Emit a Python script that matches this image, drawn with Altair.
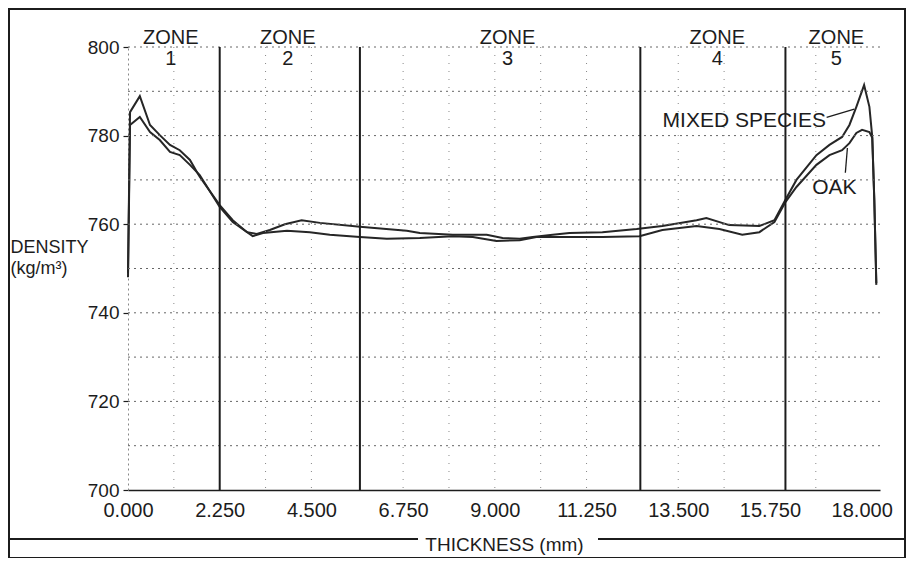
import altair as alt
import pandas as pd

FONT = "Liberation Sans"
INK = "#1c1c1c"

# ---- data ----
thickness_mixed = [0.00, 0.05, 0.29, 0.54, 0.78, 1.03, 1.27, 1.52, 1.69, 1.76, 2.25, 2.57, 2.92,
                   3.16, 3.48, 3.85, 4.26, 4.71, 5.69, 6.84, 7.16, 7.97, 8.80, 9.19, 9.61, 9.93,
                   10.42, 10.83, 11.64, 12.48, 13.11, 13.95, 14.19, 14.75, 15.49, 15.86, 16.13,
                   16.40, 16.89, 17.21, 17.52, 17.70, 17.87, 18.06, 18.19, 18.26, 18.31, 18.36]
density_mixed = [749.0, 785.3, 788.9, 782.4, 780.1, 777.9, 776.7, 774.5, 771.8, 770.7, 764.3, 760.9, 758.2,
                 757.8, 758.7, 760.0, 760.9, 760.3, 759.4, 758.5, 758.0, 757.6, 757.6, 756.9, 756.7, 757.1,
                 757.6, 758.0, 758.2, 758.9, 759.6, 760.9, 761.4, 759.8, 759.6, 760.9, 765.5,
                 770.0, 775.6, 777.9, 779.7, 782.4, 786.5, 791.4, 786.5, 779.7, 765.5, 746.7]

thickness_oak = [0.00, 0.05, 0.29, 0.54, 0.78, 1.03, 1.27, 1.52, 1.76, 2.25, 2.57, 3.06, 3.31,
                 3.90, 4.46, 4.95, 5.69, 6.35, 7.16, 7.97, 8.46, 9.04, 9.61, 10.02, 10.83, 11.64,
                 12.55, 13.11, 13.95, 14.51, 15.07, 15.49, 15.86, 16.13, 16.40, 16.89, 17.21,
                 17.52, 17.70, 17.87, 18.01, 18.19, 18.26, 18.31, 18.36]
density_oak = [748.0, 782.4, 784.2, 780.8, 779.0, 776.3, 775.6, 773.4, 771.1, 763.9, 760.5, 757.3, 758.0,
               758.5, 758.2, 757.6, 757.1, 756.7, 756.9, 757.3, 757.1, 756.2, 756.4, 757.1, 757.1, 757.1,
               757.3, 758.7, 759.6, 758.9, 757.6, 758.2, 760.5, 765.0, 768.4, 773.4, 775.6,
               776.7, 778.3, 780.6, 781.3, 780.8, 779.5, 765.5, 746.3]

zone_bounds = [2.25, 5.69, 12.57, 16.13]
zone_label_x = [1.05, 3.92, 9.31, 14.46, 17.38]
zone_labels = ["ZONE\n1", "ZONE\n2", "ZONE\n3", "ZONE\n4", "ZONE\n5"]
zone_label_y = [804.3, 804.3, 804.3, 804.3, 804.3]

x_ticks = [0.0, 2.25, 4.5, 6.75, 9.0, 11.25, 13.5, 15.75, 18.0]
y_ticks = [700, 720, 740, 760, 780, 800]
h_grid = [710, 720, 730, 740, 750, 760, 770, 780, 790, 800]
v_grid = [1.125, 3.375, 4.5, 6.75, 7.875, 9.0, 10.125, 11.25, 13.5, 14.625, 16.875]

series_labels = ["MIXED SPECIES", "OAK"]
series_label_x = [15.12, 17.33]
series_label_y = [783.3, 768.2]

leader_id = ["m", "m", "o", "o"]
leader_x = [17.14, 17.82, 17.60, 17.65]
leader_y = [784.1, 786.0, 771.6, 777.2]

# ---- tables ----
lines_df = pd.concat([
    pd.DataFrame({"thickness": thickness_mixed, "density": density_mixed, "series": "Mixed species"}),
    pd.DataFrame({"thickness": thickness_oak, "density": density_oak, "series": "Oak"}),
])
zones_df = pd.DataFrame({"thickness": zone_bounds, "density": [700] * len(zone_bounds),
                         "hi": [800] * len(zone_bounds)})
zlab_df = pd.DataFrame({"thickness": zone_label_x, "density": zone_label_y, "zl": zone_labels})
hgrid_df = pd.DataFrame({"density": h_grid})
vgrid_df = pd.DataFrame({"thickness": v_grid})
slab_df = pd.DataFrame({"thickness": series_label_x, "density": series_label_y, "sl": series_labels})
lead_df = pd.DataFrame({"thickness": leader_x, "density": leader_y, "id": leader_id})

x_scale = alt.Scale(domain=[0, 18.45], nice=False, zero=False)
y_scale = alt.Scale(domain=[700, 800], nice=False, zero=False)

x_axis = alt.Axis(values=x_ticks, format=".3f", title="THICKNESS (mm)", grid=False, ticks=False,
                  domain=True, domainColor=INK, domainWidth=1.5,
                  labelFont=FONT, labelFontSize=20, labelColor=INK, labelPadding=10,
                  labelFlush=False, labelOverlap=False,
                  titleFont=FONT, titleFontSize=19, titleFontWeight="normal", titleColor=INK,
                  titleY=54, titleBaseline="middle")
y_axis = alt.Axis(values=y_ticks, grid=False, tickSize=5, tickColor=INK, tickWidth=1.2,
                  domain=True, domainColor="#888", domainDash=[2, 3],
                  labelFont=FONT, labelFontSize=19, labelColor=INK, labelPadding=4,
                  title=["DENSITY", "(kg/m³)"], titleAngle=0, titleAlign="left", titleBaseline="top",
                  titleX=-118, titleY=191, titleFont=FONT, titleFontSize=18, titleFontWeight="normal",
                  titleColor=INK, titleLineHeight=21)

X = alt.X("thickness:Q", scale=x_scale, axis=x_axis)
Y = alt.Y("density:Q", scale=y_scale, axis=y_axis)

curves = alt.Chart(lines_df).mark_line(strokeWidth=2, interpolate="linear").encode(
    x=X, y=Y,
    color=alt.Color("series:N", scale=alt.Scale(range=["#262626", "#262626"]), legend=None))
hgrid = alt.Chart(hgrid_df).mark_rule(strokeDash=[2, 4], color="#666", strokeWidth=1).encode(y=Y)
vgrid = alt.Chart(vgrid_df).mark_rule(strokeDash=[1, 7], color="#888", strokeWidth=1).encode(x=X)
zones = alt.Chart(zones_df).mark_rule(color=INK, strokeWidth=2).encode(x=X, y=Y, y2="hi:Q")
zlab = alt.Chart(zlab_df).mark_text(font=FONT, fontSize=20, color=INK, align="center", baseline="top",
                                    lineBreak="\n", lineHeight=21).encode(x=X, y=Y, text="zl:N")
slab = alt.Chart(slab_df).mark_text(font=FONT, fontSize=21, color=INK, align="center",
                                    baseline="middle").encode(x=X, y=Y, text="sl:N")
leaders = alt.Chart(lead_df).mark_line(color=INK, strokeWidth=1.3).encode(x=X, y=Y, detail="id:N")

frame = alt.Chart(hgrid_df).mark_rect(filled=False, stroke=INK, strokeWidth=1.5).encode(
    x=alt.value(-119), x2=alt.value(777), y=alt.value(-38), y2=alt.value(511))
side_left = alt.Chart(hgrid_df).mark_rule(color=INK, strokeWidth=1.3).encode(
    x=alt.value(-119), x2=alt.value(290), y=alt.value(492))
side_right = alt.Chart(hgrid_df).mark_rule(color=INK, strokeWidth=1.3).encode(
    x=alt.value(470), x2=alt.value(777), y=alt.value(492))

chart = alt.layer(curves, hgrid, vgrid, zones, zlab, slab, leaders, frame, side_left, side_right).properties(
    width=752, height=443,
    autosize=alt.AutoSizeParams(type="none"),
    padding={"left": 120, "top": 39, "right": 27, "bottom": 68},
    background="white",
).configure_view(stroke=None)

chart.save("out.html", embed_options={"renderer": "svg", "actions": False})
